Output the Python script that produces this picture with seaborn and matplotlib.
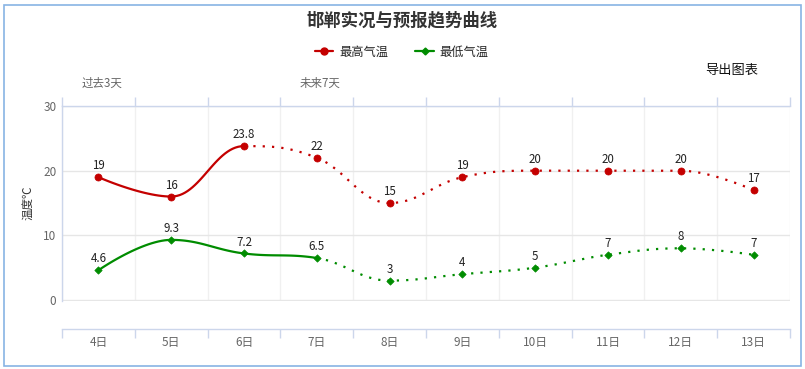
import matplotlib
matplotlib.use("Agg")
import matplotlib.pyplot as plt
from matplotlib.lines import Line2D
from matplotlib.patches import Rectangle
import seaborn as sns
import numpy as np
import pandas as pd

# data
days = ["4日", "5日", "6日", "7日", "8日", "9日", "10日", "11日", "12日", "13日"]
high = [19, 16, 23.8, 22, 15, 19, 20, 20, 20, 17]
low = [4.6, 9.3, 7.2, 6.5, 3, 4, 5, 7, 8, 7]
high_solid_until = 2   # index where the dotted forecast part starts
low_solid_until = 3
high_labels = ["19", "16", "23.8", "22", "15", "19", "20", "20", "20", "17"]
low_labels = ["4.6", "9.3", "7.2", "6.5", "3", "4", "5", "7", "8", "7"]

RED = "#c40000"
GREEN = "#008c00"
GRAY = "#666666"
AXIS = "#ccd6eb"


def spline_segments(ys, steps=30):
    """Bezier curve pieces like a highcharts 'spline' series."""
    xs = np.arange(len(ys), dtype=float)
    ys = np.asarray(ys, dtype=float)
    n = len(ys)
    sm, den = 1.5, 2.5
    lc = [(xs[i], ys[i]) for i in range(n)]
    rc = [(xs[i], ys[i]) for i in range(n)]
    for i in range(1, n - 1):
        px, py = xs[i], ys[i]
        lx, ly = xs[i - 1], ys[i - 1]
        nx, ny = xs[i + 1], ys[i + 1]
        lcx = (sm * px + lx) / den
        lcy = (sm * py + ly) / den
        rcx = (sm * px + nx) / den
        rcy = (sm * py + ny) / den
        corr = (rcy - lcy) * (rcx - px) / (rcx - lcx) + py - rcy
        lcy += corr
        rcy += corr
        if lcy > ly and lcy > py:
            lcy = max(ly, py); rcy = 2 * py - lcy
        elif lcy < ly and lcy < py:
            lcy = min(ly, py); rcy = 2 * py - lcy
        if rcy > ny and rcy > py:
            rcy = max(ny, py); lcy = 2 * py - rcy
        elif rcy < ny and rcy < py:
            rcy = min(ny, py); lcy = 2 * py - rcy
        lc[i] = (lcx, lcy)
        rc[i] = (rcx, rcy)
    segs = []
    t = np.linspace(0, 1, steps)[:, None]
    for i in range(1, n):
        p0 = np.array([xs[i - 1], ys[i - 1]])
        p1 = np.array(rc[i - 1])
        p2 = np.array(lc[i])
        p3 = np.array([xs[i], ys[i]])
        b = ((1 - t) ** 3) * p0 + 3 * ((1 - t) ** 2) * t * p1 + 3 * (1 - t) * t ** 2 * p2 + t ** 3 * p3
        segs.append(b)
    return segs


sns.set_theme(style="white")
plt.rcParams["font.family"] = ["Noto Sans CJK SC", "DejaVu Sans"]
plt.rcParams["axes.unicode_minus"] = False

W, H = 805, 369
fig = plt.figure(figsize=(W / 100, H / 100), dpi=100)
ax = fig.add_axes([62 / W, (H - 301) / H, (790 - 62) / W, (301 - 106) / H])

px2pt = 72 / 100


def draw_series(vals, labels, solid_until, color, marker, msize):
    segs = spline_segments(vals)
    solid = np.vstack(segs[:solid_until])
    dotted = np.vstack(segs[solid_until:])
    df_s = pd.DataFrame({"x": solid[:, 0], "y": solid[:, 1]})
    df_d = pd.DataFrame({"x": dotted[:, 0], "y": dotted[:, 1]})
    sns.lineplot(data=df_s, x="x", y="y", sort=False, estimator=None, color=color, lw=1.6, ax=ax)
    sns.lineplot(data=df_d, x="x", y="y", sort=False, estimator=None, color=color, lw=1.6,
                 ax=ax, linestyle=(0, (1, 3.2)))
    pts = pd.DataFrame({"x": np.arange(len(vals)), "y": vals})
    sns.scatterplot(data=pts, x="x", y="y", color=color, marker=marker, s=msize,
                    edgecolor=color, linewidth=0.5, ax=ax, zorder=5)
    for i, (v, lab) in enumerate(zip(vals, labels)):
        ax.annotate(lab, (i, v), xytext=(0, 3.5), textcoords="offset points",
                    ha="center", va="bottom", fontsize=8.3, color="#222222")


draw_series(high, high_labels, high_solid_until, RED, "o", 26)
draw_series(low, low_labels, low_solid_until, GREEN, "D", 14)

ax.set_xlim(-0.5, len(days) - 0.5)
ax.set_ylim(-0.15, 30)
ax.set_xticks(range(len(days)))
ax.set_xticklabels(days)
ax.set_xticks(np.arange(-0.5, len(days), 1), minor=True)
ax.set_yticks([0, 10, 20, 30])
ax.set_xlabel("")
ax.set_ylabel("")

ax.grid(False)
ax.grid(which="minor", axis="x", color="#f0f0f0", lw=1)
ax.grid(which="major", axis="y", color="#e6e6e6", lw=1)
ax.set_axisbelow(True)

for s in ["left", "top", "bottom"]:
    ax.spines[s].set_color(AXIS)
    ax.spines[s].set_linewidth(1)
ax.spines["right"].set_visible(False)
ax.spines["bottom"].set_position(("outward", 28 * px2pt))

ax.tick_params(axis="x", which="major", length=0, pad=5, labelsize=8.5, labelcolor=GRAY)
ax.tick_params(axis="x", which="minor", length=9 * px2pt, width=1, color=AXIS,
               top=True, bottom=True, direction="out")
ax.tick_params(axis="y", length=0, pad=4, labelsize=8.5, labelcolor=GRAY)

# texts
fig.text(402 / W, 1 - 20 / H, "邯郸实况与预报趋势曲线", ha="center", va="center",
         fontsize=12.5, fontweight="bold", color="#333333")
fig.text(102 / W, 1 - 83 / H, "过去3天", ha="center", va="center", fontsize=8.3, color=GRAY)
fig.text(320 / W, 1 - 83 / H, "未来7天", ha="center", va="center", fontsize=8.3, color=GRAY)
fig.text(732 / W, 1 - 70 / H, "导出图表", ha="center", va="center", fontsize=9.5, color="#111111")
fig.text(28 / W, 1 - 203 / H, "温度℃", ha="center", va="center", rotation=90,
         fontsize=8.3, color="#333333")

handles = [
    Line2D([], [], color=RED, lw=1.6, marker="o", markersize=5),
    Line2D([], [], color=GREEN, lw=1.6, marker="D", markersize=3.5),
]
fig.legend(handles, ["最高气温", "最低气温"], loc="center", bbox_to_anchor=(402 / W, 1 - 52 / H),
           ncol=2, frameon=False, fontsize=8.8, handlelength=1.5, handletextpad=0.5,
           columnspacing=2.2, borderpad=0)

fig.patches.append(Rectangle((4 / W, (H - 366) / H), (801 - 4) / W, (366 - 5) / H,
                             transform=fig.transFigure, fill=False, edgecolor="#88b4e4", lw=1.2))

fig.savefig("out.png", dpi=100)
